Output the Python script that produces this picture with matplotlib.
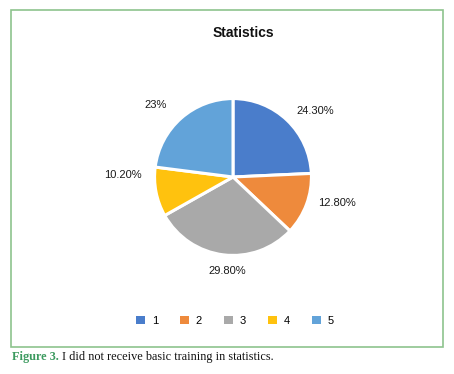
import matplotlib
matplotlib.use('Agg')
from matplotlib import pyplot as plt
from matplotlib.patches import Rectangle

# data
categories = ['1', '2', '3', '4', '5']
shares = [24.3, 12.8, 29.8, 10.2, 23.0]
value_labels = ['24.30%', '12.80%', '29.80%', '10.20%', '23%']
colors = ['#4A7DCB', '#EE8A3C', '#A9A9A9', '#FFC20E', '#62A3D9']

plt.rcParams['font.family'] = ['Liberation Sans', 'DejaVu Sans']

fig = plt.figure(figsize=(4.54, 3.74), dpi=100)
W, H = 454, 374

# green frame round the chart
fig.patches.append(Rectangle((11 / W, 1 - 347 / H), (443 - 11) / W, (347 - 10) / H,
                             transform=fig.transFigure, fill=False,
                             edgecolor='#8DC48D', linewidth=1.2))

# pie: centre ~ (233, 177), radius ~ 80 px
r = 80
ax = fig.add_axes([(233 - r) / W, 1 - (177 + r) / H, 2 * r / W, 2 * r / H])
wedges, texts = ax.pie(shares, labels=value_labels, colors=colors, startangle=90,
                       counterclock=False, labeldistance=1.17,
                       wedgeprops=dict(edgecolor='white', linewidth=2.2),
                       textprops=dict(fontsize=8, color='#1a1a1a'))
# nudge labels to where the original puts them
texts[1].set_position((1.09, -0.33))
texts[2].set_ha('center')
texts[2].set_position((-0.07, -1.2))
texts[3].set_position((-1.17, 0.02))
texts[4].set_position((-0.85, 0.92))
ax.set_aspect('equal')
ax.set_xlim(-1.02, 1.02)
ax.set_ylim(-1.02, 1.02)

fig.text(243 / W, 1 - 33 / H, 'Statistics', ha='center', va='center',
         fontsize=10, fontweight='bold', color='#111111')

handles = [Rectangle((0, 0), 1, 1, facecolor=c, edgecolor='none') for c in colors]
leg = fig.legend(handles, categories, loc='center', bbox_to_anchor=(235 / W, 1 - 321 / H),
                 ncol=5, frameon=False, fontsize=8, handlelength=0.8, handleheight=0.8,
                 columnspacing=2.0, handletextpad=0.6)

# caption under the frame
fig.canvas.draw()
cap1 = fig.text(12 / W, 1 - 357 / H, 'Figure 3.', ha='left', va='center',
                fontsize=8.8, fontweight='bold', color='#3C9A5F', family='Liberation Serif')
fig.canvas.draw()
bb = cap1.get_window_extent()
fig.text((bb.x1 + 3) / W, 1 - 357 / H, 'I did not receive basic training in statistics.',
         ha='left', va='center', fontsize=8.8, color='#111111', family='Liberation Serif')

plt.savefig('out.png', dpi=100)
